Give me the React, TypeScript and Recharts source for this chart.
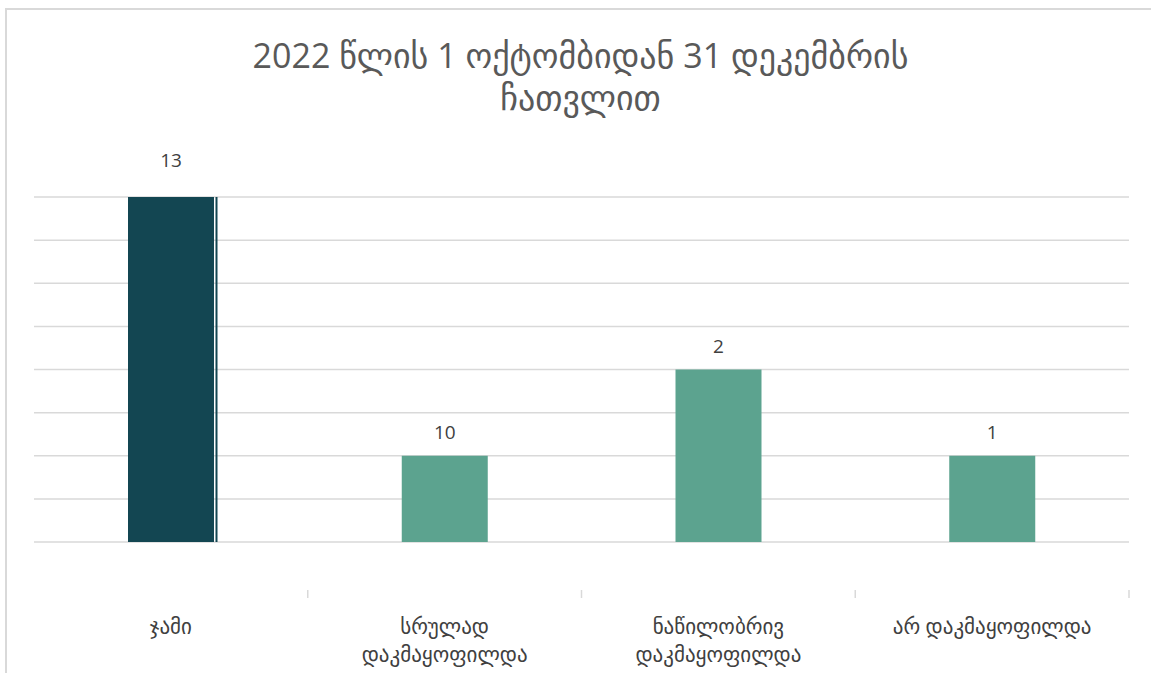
import React from 'react';
import { BarChart, Bar, XAxis, YAxis, CartesianGrid, Cell, LabelList } from 'recharts';

const categories = ['ჯამი', 'სრულად\nდაკმაყოფილდა', 'ნაწილობრივ\nდაკმაყოფილდა', 'არ დაკმაყოფილდა'];
const barHeights = [8, 2, 4, 2];
const barLabels = ['13', '10', '2', '1'];
const yTicks = [0, 1, 2, 3, 4, 5, 6, 7, 8];

const TITLE_1 = '2022 წლის 1 ოქტომბიდან 31 დეკემბრის';
const TITLE_2 = 'ჩათვლით';

const W = 1151;
const H = 673;
const BASE_Y = 542;
const M = { top: 197, right: 22, left: 34, bottom: 0 };
const BAND = (W - M.left - M.right) / categories.length;
const FONT = '"Open Sans", "DejaVu Sans", sans-serif';

const colors = ['#134652', '#5CA38F', '#5CA38F', '#5CA38F'];

const data = categories.map((name, i) => ({
  name,
  value: barHeights[i],
  label: barLabels[i],
}));

const CategoryTick = (props: any) => {
  const { x, payload } = props;
  const lines = String(payload.value).split('\n');
  return (
    <g>
      <line x1={x + BAND / 2} x2={x + BAND / 2} y1={BASE_Y + 48} y2={BASE_Y + 56} stroke="#d9d9d9" strokeWidth={1.5} />
      {lines.map((t, i) => (
        <text
          key={i}
          x={x}
          y={BASE_Y + 84 + i * 28}
          textAnchor="middle"
          dominantBaseline="central"
          fill="#404040"
          fontSize={21}
          fontFamily={FONT}
        >
          {t}
        </text>
      ))}
    </g>
  );
};

const ValueLabel = (props: any) => {
  const { x, y, width, index } = props;
  const lift = index === 0 ? 37 : 24;
  return (
    <text
      x={x + width / 2}
      y={y - lift}
      textAnchor="middle"
      dominantBaseline="central"
      fill="#404040"
      fontSize={19}
      fontFamily={FONT}
    >
      {barLabels[index]}
    </text>
  );
};

const BarShape = (props: any) => {
  const { x, y, width, height, fill, index } = props;
  return (
    <g>
      <rect x={x} y={y} width={width} height={height} fill={fill} />
      {index === 0 && <rect x={x + width + 1.5} y={y} width={2} height={height} fill={fill} />}
    </g>
  );
};

export default function App() {
  return (
    <div style={{ position: 'absolute', left: 0, top: 0, width: W, height: H, overflow: 'hidden', background: '#fff' }}>
      <div
        style={{
          position: 'absolute',
          left: 5,
          top: 8,
          width: W + 20,
          height: H + 20,
          border: '2px solid #d9d9d9',
        }}
      />
      <div
        style={{
          position: 'absolute',
          left: 0,
          top: 34,
          width: W + 10,
          textAlign: 'center',
          fontFamily: FONT,
          fontSize: 34,
          lineHeight: '42px',
          color: '#595959',
        }}
      >
        <div>{TITLE_1}</div>
        <div>{TITLE_2}</div>
      </div>
      <div style={{ position: 'absolute', left: 0, top: 0 }}>
        <BarChart width={W} height={H} data={data} margin={M}>
          <CartesianGrid vertical={false} stroke="#d9d9d9" strokeWidth={1.5} />
          <XAxis
            dataKey="name"
            height={H - BASE_Y}
            axisLine={false}
            tickLine={false}
            interval={0}
            tick={<CategoryTick />}
          />
          <YAxis hide domain={[0, 8]} ticks={yTicks} />
          <Bar dataKey="value" barSize={86} isAnimationActive={false} shape={<BarShape />}>
            {data.map((d, i) => (
              <Cell key={d.name} fill={colors[i]} />
            ))}
            <LabelList dataKey="label" content={<ValueLabel />} />
          </Bar>
        </BarChart>
      </div>
    </div>
  );
}
